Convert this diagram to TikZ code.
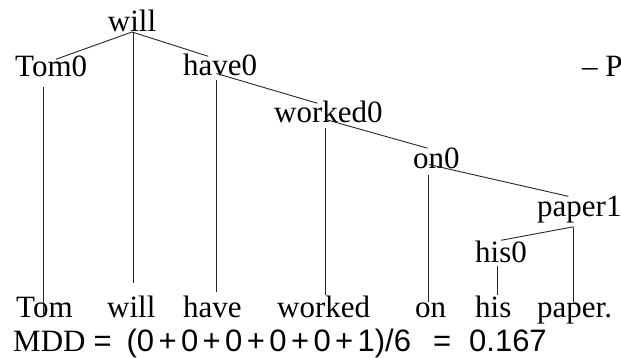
\documentclass[tikz,border=0pt]{standalone}
\usepackage{fontspec}
\setmainfont{Liberation Serif}
\newfontfamily\numfont{Liberation Sans}
\tikzset{
	word/.style={inner sep=0pt, anchor=base west},
	dep/.style={line width=0.9pt, draw=black!85}
}

\begin{document}
\begin{tikzpicture}[x=1pt, y=-1pt, every node/.style={font=\fontsize{31}{36}\selectfont}]
		\useasboundingbox (0,0) rectangle (621,358);
		\node (root) [inner sep=0pt, anchor=base] at (132,32) {will};
		\node (tomh) [word] at (15,77) {Tom0};
		\node (haveh) [word] at (183,76) {have0};
		\node (workedh) [word] at (274,123) {worked0};
		\node (onh) [word] at (413,169) {on0};
		\node (paperh) [word] at (537,217) {paper1};
		\node (hish) [word] at (475,262) {his0};
		\node (cut) [word] at (582,77) {– P};
		\node (tom) [word] at (16,317) {Tom};
		\node (will) [word] at (107,317) {will};
		\node (have) [word] at (183,317) {have};
		\node (worked) [word] at (277,317) {worked};
		\node (on) [word] at (415,317) {on};
		\node (his) [word] at (475,317) {his};
		\node (paper) [word] at (537,317) {paper.};
		\node (mdd) [word] at (13,351) {MDD\hspace{8pt}{\numfont =\hspace{15pt}(0\kern4.4pt+\kern4.4pt0\kern4.4pt+\kern4.4pt0\kern4.4pt+\kern4.4pt0\kern4.4pt+\kern4.4pt0\kern4.4pt+\kern4.4pt1)/6\hspace{22pt}=\hspace{18pt}0.167}};

		\draw [dep] (root.base) -- ([xshift=5pt,yshift=-3pt]tomh.north);
		\draw [dep] (root.base) -- ([xshift=-12pt,yshift=-2pt]haveh.north);
		\draw [dep, shorten >=12pt] ([xshift=1pt]root.base) -- ([xshift=1pt]root.base |- will.north);
		\draw [dep, shorten <=9pt, shorten >=-17pt] ([xshift=-1pt]tom.north |- tomh.south) -- ([xshift=-1pt]tom.north);
		\draw [dep, shorten <=3pt, shorten >=3pt] ([xshift=4pt]have.north |- haveh.south) -- ([xshift=4pt]have.north);
		\draw [dep] ([xshift=4pt,yshift=3pt]have.north |- haveh.south) -- ([xshift=-11pt,yshift=-2pt]workedh.north);
		\draw [dep, shorten <=4pt] ([xshift=2pt]worked.north |- workedh.south) -- ([xshift=2pt]worked.north);
		\draw [dep] ([xshift=2pt,yshift=4pt]worked.north |- workedh.south) -- ([xshift=-9pt]onh.north);
		\draw [dep, shorten <=5pt] ([xshift=-2pt]on.north |- onh.south) -- ([xshift=-2pt]on.north);
		\draw [dep] ([xshift=-2pt,yshift=5pt]on.north |- onh.south) -- ([xshift=-11pt]paperh.north);
		\draw [dep] ([xshift=-6pt,yshift=-3pt]paperh.south) -- ([xshift=-6pt]paperh.south |- paper.north);
		\draw [dep] ([xshift=-6pt,yshift=-3pt]paperh.south) -- (hish.north);
		\draw [dep, shorten <=3pt] ([xshift=4pt]his.north |- hish.south) -- ([xshift=4pt]his.north);
		\end{tikzpicture}
\end{document}
